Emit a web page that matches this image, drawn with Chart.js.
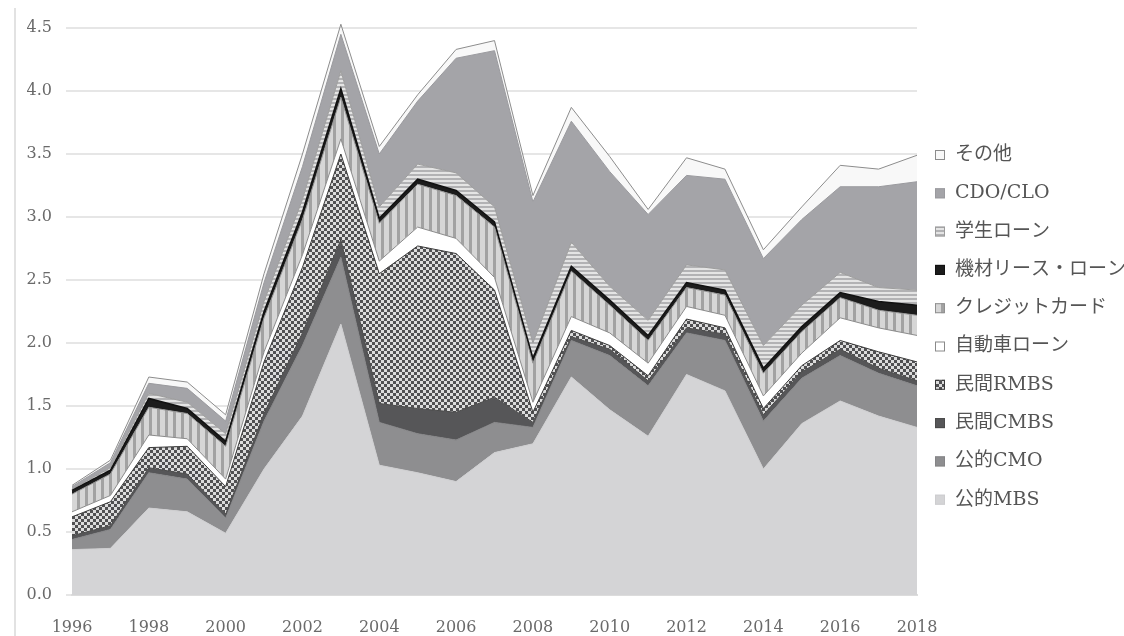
<!DOCTYPE html>
<html lang="ja">
<head>
<meta charset="utf-8">
<title>証券化商品の発行額</title>
<script src="https://cdn.jsdelivr.net/npm/chart.js@4.4.1/dist/chart.umd.min.js"></script>
<style>
  html, body { margin: 0; padding: 0; background: #fff; }
  #wrap { width: 1124px; height: 636px; position: relative; }
</style>
</head>
<body>
<div id="wrap"><canvas id="chart" width="1124" height="636"></canvas></div>
<script>
// issuance by product, 1996-2018 (stacked, bottom layer first)
const years = ["1996", "1997", "1998", "1999", "2000", "2001", "2002", "2003", "2004", "2005", "2006", "2007",
               "2008", "2009", "2010", "2011", "2012", "2013", "2014", "2015", "2016", "2017", "2018"];
const yTicks = [0, 0.5, 1, 1.5, 2, 2.5, 3, 3.5, 4, 4.5];

const agencyMbs   = [0.36, 0.37, 0.69, 0.66, 0.49, 1.00, 1.42, 2.15, 1.03, 0.97, 0.90, 1.13, 1.20, 1.73, 1.47, 1.26, 1.75, 1.62, 1.00, 1.36, 1.54, 1.42, 1.33];
const agencyCmo   = [0.08, 0.15, 0.28, 0.26, 0.12, 0.38, 0.56, 0.53, 0.34, 0.31, 0.33, 0.24, 0.13, 0.29, 0.43, 0.40, 0.33, 0.40, 0.38, 0.36, 0.36, 0.34, 0.33];
const privateCmbs = [0.03, 0.03, 0.04, 0.04, 0.03, 0.06, 0.10, 0.14, 0.15, 0.20, 0.22, 0.20, 0.04, 0.03, 0.05, 0.04, 0.04, 0.05, 0.05, 0.05, 0.05, 0.04, 0.04];
const privateRmbs = [0.15, 0.19, 0.16, 0.22, 0.22, 0.41, 0.52, 0.68, 1.03, 1.29, 1.26, 0.85, 0.08, 0.05, 0.03, 0.04, 0.07, 0.05, 0.05, 0.05, 0.07, 0.13, 0.15];
const autoLoan    = [0.04, 0.05, 0.10, 0.06, 0.06, 0.08, 0.10, 0.12, 0.10, 0.15, 0.12, 0.10, 0.08, 0.11, 0.10, 0.10, 0.10, 0.10, 0.10, 0.10, 0.18, 0.19, 0.21];
const creditCard  = [0.14, 0.17, 0.22, 0.20, 0.26, 0.27, 0.28, 0.33, 0.30, 0.34, 0.34, 0.40, 0.31, 0.36, 0.22, 0.18, 0.15, 0.16, 0.18, 0.17, 0.16, 0.14, 0.16];
const equipLease  = [0.03, 0.03, 0.07, 0.04, 0.04, 0.05, 0.06, 0.07, 0.04, 0.04, 0.04, 0.04, 0.04, 0.04, 0.04, 0.04, 0.04, 0.04, 0.04, 0.04, 0.04, 0.07, 0.08];
const studentLoan = [0.01, 0.02, 0.04, 0.05, 0.06, 0.08, 0.10, 0.14, 0.09, 0.12, 0.14, 0.12, 0.12, 0.19, 0.11, 0.12, 0.14, 0.16, 0.18, 0.17, 0.16, 0.11, 0.12];
const cdoClo      = [0.02, 0.04, 0.08, 0.11, 0.10, 0.15, 0.26, 0.29, 0.42, 0.50, 0.91, 1.24, 1.12, 0.96, 0.91, 0.84, 0.71, 0.72, 0.69, 0.68, 0.68, 0.80, 0.86];
const others      = [0.01, 0.02, 0.05, 0.05, 0.05, 0.07, 0.10, 0.08, 0.06, 0.05, 0.07, 0.08, 0.05, 0.11, 0.12, 0.04, 0.14, 0.08, 0.07, 0.10, 0.17, 0.14, 0.21];

const seriesNames = ["公的MBS", "公的CMO", "民間CMBS", "民間RMBS", "自動車ローン",
                     "クレジットカード", "機材リース・ローン", "学生ローン", "CDO/CLO", "その他"];

function makePattern(w, h, paint) {
  const c = document.createElement("canvas");
  c.width = w; c.height = h;
  const g = c.getContext("2d");
  paint(g);
  return g.createPattern(c, "repeat");
}

const checker = makePattern(6, 6, g => {
  g.fillStyle = "#dcdcdc"; g.fillRect(0, 0, 6, 6);
  g.fillStyle = "#505052"; g.fillRect(0, 0, 3, 3); g.fillRect(3, 3, 3, 3);
});
const vStripes = makePattern(8, 8, g => {
  g.fillStyle = "#d6d6d6"; g.fillRect(0, 0, 8, 8);
  g.fillStyle = "#a2a2a2"; g.fillRect(5, 0, 3, 8);
});
const hStripes = makePattern(4, 4, g => {
  g.fillStyle = "#e4e4e4"; g.fillRect(0, 0, 4, 4);
  g.fillStyle = "#b2b2b4"; g.fillRect(0, 2, 4, 2);
});

const fills   = ["#d4d4d6", "#8e8e90", "#565658", checker, "#ffffff", vStripes, "#1c1c1c", hStripes, "#a4a4a8", "#f8f8f8"];
const borders = ["#cdcdcf", "#848486", "#4a4a4a", "#3a3a3a", "#8a8a8a", "#909090", "#111111", "#9c9c9c", "#9a9a9e", "#8c8c8c"];
const series  = [agencyMbs, agencyCmo, privateCmbs, privateRmbs, autoLoan, creditCard, equipLease, studentLoan, cdoClo, others];

const datasets = series.map((vals, i) => ({
  label: seriesNames[i],
  data: vals,
  backgroundColor: fills[i],
  borderColor: borders[i],
  borderWidth: i === 6 ? 1.5 : 1,
  fill: i === 0 ? "origin" : "-1",
  pointRadius: 0,
  tension: 0,
  clip: false
}));

// legend column on the right, top item = top layer
const sideLegend = {
  id: "sideLegend",
  afterDraw(chart) {
    const ctx = chart.ctx;
    const x = chart.chartArea.right + 18;
    ctx.save();
    ctx.font = '19px "DejaVu Serif", "Noto Sans CJK JP", serif';
    ctx.textBaseline = "middle";
    chart.data.datasets.slice().reverse().forEach((ds, i) => {
      const y = 155 + i * 38.3;
      ctx.fillStyle = ds.backgroundColor;
      ctx.fillRect(x, y - 5, 10, 10);
      ctx.strokeStyle = ds.borderColor;
      ctx.lineWidth = 1;
      ctx.strokeRect(x + 0.5, y - 4.5, 9, 9);
      ctx.fillStyle = "#555";
      ctx.fillText(ds.label, x + 20, y);
    });
    ctx.restore();
  }
};

// thin frame line on the left side of the figure
const frameLine = {
  id: "frameLine",
  beforeDraw(chart) {
    const ctx = chart.ctx;
    ctx.save();
    ctx.strokeStyle = "#e2e2e2";
    ctx.lineWidth = 2;
    ctx.beginPath();
    ctx.moveTo(15, 8);
    ctx.lineTo(15, 636);
    ctx.stroke();
    ctx.restore();
  }
};

new Chart(document.getElementById("chart"), {
  type: "line",
  data: { labels: years, datasets: datasets },
  options: {
    responsive: false,
    animation: false,
    layout: { padding: { top: 28, right: 207, bottom: 0, left: 0 } },
    plugins: { legend: { display: false }, tooltip: { enabled: false } },
    scales: {
      x: {
        grid: { display: false },
        border: { display: true, color: "#dcdcdc", width: 2 },
        afterFit: s => { s.height = 41; },
        ticks: {
          autoSkip: false,
          maxRotation: 0,
          padding: 15,
          color: "#6a6a6a",
          font: { family: '"DejaVu Serif", serif', size: 16 },
          callback: (v, i) => (i % 2 === 0 ? years[i] : "")
        }
      },
      y: {
        stacked: true,
        min: yTicks[0],
        max: yTicks[yTicks.length - 1],
        afterFit: s => { s.width = 72; },
        afterBuildTicks: s => { s.ticks = yTicks.map(v => ({ value: v })); },
        border: { display: false },
        grid: { color: "#e6e6e6", lineWidth: 2, tickLength: 6 },
        ticks: {
          padding: 14,
          color: "#6a6a6a",
          font: { family: '"DejaVu Serif", serif', size: 16 },
          callback: v => v.toFixed(1)
        }
      }
    }
  },
  plugins: [frameLine, sideLegend]
});
</script>
</body>
</html>
